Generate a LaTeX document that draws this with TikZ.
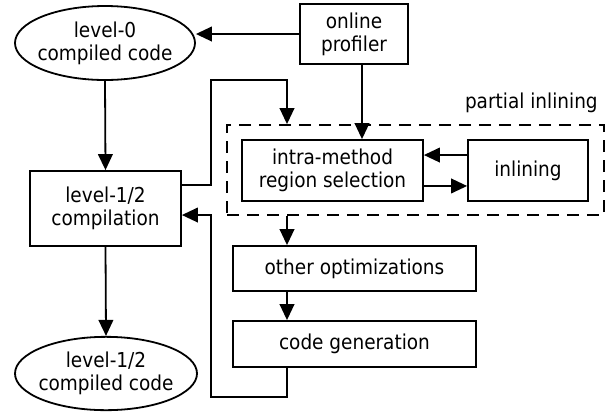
\documentclass[tikz,border=0pt]{standalone}
\usepackage{fontspec}
\setmainfont{DejaVu Sans Condensed}
\usetikzlibrary{shapes.geometric,arrows.meta,calc}
\begin{document}
\begin{tikzpicture}[x=0.75pt,y=-0.75pt,
  every node/.style={font=\fontsize{15.4}{17.5}\selectfont, align=center, inner sep=0pt},
  box/.style={draw, line width=1.35pt, rectangle},
  oval/.style={draw, line width=1.35pt, ellipse},
  arr/.style={line width=1.35pt, -{Triangle[length=12pt,width=11pt]}},
  dashbox/.style={draw, line width=1.35pt, dash pattern=on 9pt off 6pt}]
\useasboundingbox (0,0) rectangle (611,412);
\node[oval, minimum width=135pt, minimum height=55.5pt] (e0) at (105,43) {};
\node (e0t) at (e0.center) {level-0\\compiled code};
\node[box, minimum width=81pt, minimum height=45pt] (prof) at (354,34) {online\\profiler};
\node[box, minimum width=113.25pt, minimum height=56.25pt] (comp) at (105.5,208.5) {level-1/2\\compilation};
\node[oval, minimum width=136.5pt, minimum height=55pt] (e1) at (106,373.5) {};
\node (e1t) at (e1.center) {level-1/2\\compiled code};
\node[dashbox, minimum width=282.75pt, minimum height=67.5pt] (pin) at (415.5,170) {};
\node[anchor=base east] (plab) at (598,108) {partial inlining};
\node[box, minimum width=135.75pt, minimum height=45.75pt] (intra) at (332.5,170.5) {intra-method\\region selection};
\node[box, minimum width=90pt, minimum height=45.75pt] (inl) at (528,170.5) {inlining};
\node[box, minimum width=182.25pt, minimum height=33.75pt] (other) at (354.5,268.5) {other optimizations};
\node[box, minimum width=182.25pt, minimum height=34.5pt] (cg) at (354.5,344) {code generation};
\coordinate (bx) at (287,0);
\coordinate (lx) at (211,0);

\draw[arr] (prof.west) -- (prof.west -| e0.east);
\draw[arr] (e0.south) -- (comp.north);
\draw[arr] (comp.south) -- (e1.north);
\draw[arr] ([xshift=6pt]prof.south) -- ([xshift=6pt]prof.south |- intra.north);
\draw[arr] ([yshift=17.6pt]comp.east) -| ($(lx)+(0,80)$) -| (bx |- pin.north);
\draw[arr] ([yshift=11.6pt]inl.west) -- ([yshift=11.6pt]inl.west -| intra.east);
\draw[arr] ([yshift=-11.6pt]intra.east) -- ([yshift=-11.6pt]intra.east -| inl.west);
\draw[arr] (bx |- pin.south) -- (bx |- other.north);
\draw[arr] (bx |- other.south) -- (bx |- cg.north);
\draw[arr] (bx |- cg.south) -- ($(bx)+(0,397)$) -| (lx |- 0,215) -- ([yshift=-4.9pt]comp.east);
\end{tikzpicture}
\end{document}
